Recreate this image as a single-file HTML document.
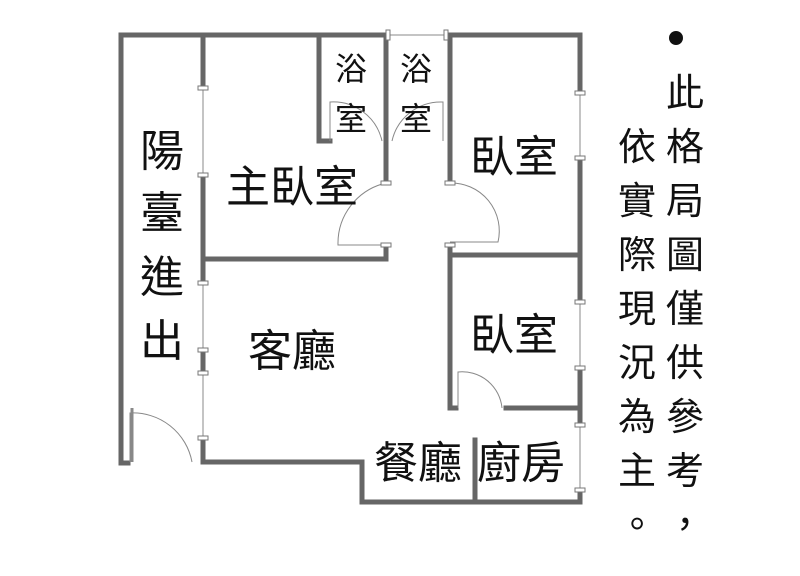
<!DOCTYPE html>
<html><head><meta charset="utf-8"><style>
html,body{margin:0;padding:0;background:#fff;width:800px;height:576px;overflow:hidden}
svg text{font-family:"Liberation Sans","Noto Sans CJK TC",sans-serif;fill:#111}
</style></head><body>
<svg width="800" height="576" viewBox="0 0 800 576" xmlns="http://www.w3.org/2000/svg">
<g stroke="#666" stroke-width="5" fill="none" stroke-linecap="square">
<path d="M121,463 V35 H386"/>
<path d="M450,35 H580 V93"/>
<path d="M580,158 V302"/>
<path d="M580,368 V425"/>
<path d="M580,490 V502 H362 V462 H203"/>
<path d="M203,35 V88"/><path d="M203,175 V283"/><path d="M203,350 V373"/><path d="M203,438 V462"/>
<path d="M203,259 H386 V245"/>
<path d="M386,35 V183"/>
<path d="M319,35 V141 H330"/>
<path d="M450,35 V183"/>
<path d="M450,245 V408 H456"/>
<path d="M450,255 H580"/>
<path d="M506,408 H580"/>
<path d="M475,440 V502"/>
<path d="M121,463 H128"/>
</g>
<g stroke="#888" stroke-width="1" fill="none">
<path d="M203,88 V175 M203,283 V350 M203,373 V438 M580,93 V158 M580,302 V368 M580,425 V490 M388,35 H448"/>
<path d="M386,183 A62,62 0 0 0 338,245 H386"/>
<path d="M450,183 A48,48 0 0 1 498,242 H450"/>
<path d="M330,141 V102 A50,50 0 0 1 382,141"/>
<path d="M443,141 V102 A50,50 0 0 0 392,141"/>
<path d="M458,408 V372 A40,40 0 0 1 502,408"/>
<path d="M130,462 V413 A60,60 0 0 1 192,462"/>
<path d="M132,408 V462" stroke-width="3"/>
</g>
<g fill="#fff" stroke="#777" stroke-width="1">
<rect x="198" y="86" width="10" height="4"/><rect x="198" y="173" width="10" height="4"/>
<rect x="198" y="281" width="10" height="4"/><rect x="198" y="348" width="10" height="4"/>
<rect x="198" y="371" width="10" height="4"/><rect x="198" y="436" width="10" height="4"/>
<rect x="575" y="91" width="10" height="4"/><rect x="575" y="156" width="10" height="4"/>
<rect x="575" y="300" width="10" height="4"/><rect x="575" y="366" width="10" height="4"/>
<rect x="575" y="423" width="10" height="4"/><rect x="575" y="488" width="10" height="4"/>
<rect x="386" y="30" width="4" height="10"/><rect x="444" y="30" width="4" height="10"/>
<rect x="381" y="181" width="10" height="4"/><rect x="381" y="243" width="10" height="4"/>
<rect x="445" y="181" width="10" height="4"/><rect x="445" y="243" width="10" height="4"/>
</g>
<g font-size="44">
<text x="140" y="166">陽</text><text x="140" y="228">臺</text><text x="140" y="292">進</text><text x="140" y="356">出</text>
<text x="226" y="202">主臥室</text>
<text x="470" y="172">臥室</text>
<text x="248" y="366">客廳</text>
<text x="470" y="350">臥室</text>
<text x="374" y="478">餐廳</text>
<text x="477" y="478">廚房</text>
</g>
<g font-size="32">
<text x="335" y="80">浴</text><text x="335" y="130">室</text>
<text x="400" y="80">浴</text><text x="400" y="130">室</text>
</g>
<circle cx="676" cy="38" r="7" fill="#111"/>
<g font-size="38">
<text x="666" y="106">此</text><text x="666" y="160">格</text><text x="666" y="214">局</text><text x="666" y="268">圖</text><text x="666" y="322">僅</text><text x="666" y="376">供</text><text x="666" y="430">參</text><text x="666" y="484">考</text><text x="666" y="538">，</text>
<text x="618" y="160">依</text><text x="618" y="214">實</text><text x="618" y="268">際</text><text x="618" y="322">現</text><text x="618" y="376">況</text><text x="618" y="430">為</text><text x="618" y="484">主</text><text x="618" y="538">。</text>
</g>
</svg>
</body></html>
